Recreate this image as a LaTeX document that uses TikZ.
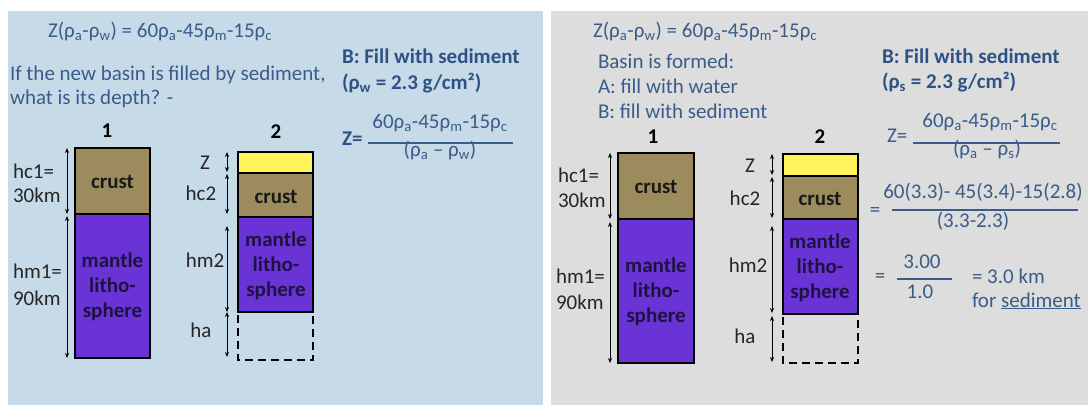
\documentclass[tikz,border=0pt]{standalone}
\usepackage{fontspec}
\setmainfont{Carlito}
\usetikzlibrary{arrows.meta}
\definecolor{leftbg}{HTML}{C6DAE8}
\definecolor{rightbg}{HTML}{DDDDDD}
\definecolor{tblue}{HTML}{3A5C8A}
\definecolor{bblue}{HTML}{2F5285}
\definecolor{crustc}{HTML}{9C8B5C}
\definecolor{mantc}{HTML}{6A33D6}
\definecolor{sedc}{HTML}{FFF35C}
\definecolor{manttxt}{HTML}{1E1340}
\definecolor{lblc}{HTML}{262626}
\newcommand{\fsN}{\fontsize{21}{25}\selectfont}
\newcommand{\lsub}[1]{\textsubscript{#1}}
\tikzset{
  every node/.style={inner sep=0pt, outer sep=0pt},
  txt/.style={font=\fsN, text=tblue},
  btxt/.style={font=\fsN\bfseries, text=bblue},
  lbl/.style={font=\fsN, text=lblc},
  colnum/.style={font=\fsN\bfseries, text=black, anchor=base},
  boxtxt/.style={font=\fontsize{21}{25}\selectfont\bfseries, align=center},
  layer/.style={draw=black, line width=1.5pt},
  dimarrow/.style={draw=black, line width=0.9pt, {Stealth[length=5pt,width=4pt]}-{Stealth[length=5pt,width=4pt]}},
  fracline/.style={draw=tblue, line width=1.4pt},
  emptybox/.style={draw=black, line width=1.3pt, dash pattern=on 8pt off 5pt}
}
\begin{document}
\begin{tikzpicture}[x=1pt,y=-1pt]
\useasboundingbox (0,0) rectangle (1088,405);
% panels
\fill[leftbg] (8,11) rectangle (543,405);
\fill[rightbg] (551,11) rectangle (1088,405);

% ================= LEFT PANEL =================
\node[txt, anchor=base west] (fL) at (48,37) {Z(ρ\lsub{a}-ρ\lsub{w}) = 60ρ\lsub{a}-45ρ\lsub{m}-15ρ\lsub{c}};
\node[txt, anchor=base west] (q1) at (10,80) {If the new basin is filled by sediment,};
\node[txt, anchor=base west] (q2) at (10,104) {what is its depth? -};
\node[colnum] (n1L) at (107,137) {1};
\node[colnum] (n2L) at (276,138) {2};
\node[btxt, anchor=base west] (bL) at (342,63) {B: Fill with sediment};
\node[btxt, anchor=base west] (rhoL) at (342,89) {(ρ\lsub{w} = 2.3 g/cm²)};
\node[btxt, anchor=base west] (zL) at (342,145) {Z=};
\node[txt, anchor=base] (numL) at (440,128) {60ρ\lsub{a}-45ρ\lsub{m}-15ρ\lsub{c}};
\node[txt, anchor=base] (denL) at (440,156) {(ρ\lsub{a} – ρ\lsub{w})};
\coordinate (fLa) at (368,143); \coordinate (fLb) at (513,143);
\draw[fracline] (fLa) -- (fLb);

% column 1 (left)
\filldraw[layer, fill=crustc] (75,148) rectangle (150,214);
\filldraw[layer, fill=mantc] (75,214) rectangle (150,358);
\node[boxtxt, text=black!90] (cL1) at (112.5,182) {crust};
\node[boxtxt, text=manttxt] (mL1) at (112.5,287) {mantle\\litho-\\sphere};
\coordinate (aL1a) at (67,148); \coordinate (aL1b) at (67,214);
\coordinate (aL1c) at (67,216); \coordinate (aL1d) at (67,358);
\draw[dimarrow] (aL1a) -- (aL1b);
\draw[dimarrow] (aL1c) -- (aL1d);
\node[lbl, anchor=base west] (hc1L) at (13,178) {hc1=};
\node[lbl, anchor=base west] (hc1Lb) at (13,202) {30km};
\node[lbl, anchor=base west] (hm1L) at (13,278) {hm1=};
\node[lbl, anchor=base west] (hm1Lb) at (13,305) {90km};

% column 2 (left)
\filldraw[layer, fill=sedc] (238,152) rectangle (313,173);
\filldraw[layer, fill=crustc] (238,173) rectangle (313,217);
\filldraw[layer, fill=mantc] (238,217) rectangle (313,312);
\draw[emptybox] (238,315) -- (238,360) -- (313,360) -- (313,315);
\node[boxtxt, text=black!90] (cL2) at (276,197) {crust};
\node[boxtxt, text=manttxt] (mL2) at (276,266) {mantle\\litho-\\sphere};
\coordinate (aL2a) at (227,152); \coordinate (aL2b) at (227,172);
\coordinate (aL2c) at (227,174); \coordinate (aL2d) at (227,214);
\coordinate (aL2e) at (227,226); \coordinate (aL2f) at (227,312);
\coordinate (aL2g) at (227,312); \coordinate (aL2h) at (227,357);
\draw[dimarrow] (aL2a) -- (aL2b);
\draw[dimarrow] (aL2c) -- (aL2d);
\draw[dimarrow] (aL2e) -- (aL2f);
\draw[dimarrow] (aL2g) -- (aL2h);
\node[lbl, anchor=base] (zlL) at (205,169) {Z};
\node[lbl, anchor=base] (hc2L) at (201,200) {hc2};
\node[lbl, anchor=base] (hm2L) at (205,267) {hm2};
\node[lbl, anchor=base] (haL) at (201,337) {ha};

% ================= RIGHT PANEL =================
\node[txt, anchor=base west] (fR) at (593,37) {Z(ρ\lsub{a}-ρ\lsub{w}) = 60ρ\lsub{a}-45ρ\lsub{m}-15ρ\lsub{c}};
\node[txt, anchor=base west] (r1) at (598,68) {Basin is formed:};
\node[txt, anchor=base west] (r2) at (598,93) {A: fill with water};
\node[txt, anchor=base west] (r3) at (598,118) {B: fill with sediment};
\node[colnum] (n1R) at (653,143) {1};
\node[colnum] (n2R) at (820,143) {2};
\node[btxt, anchor=base west] (bR) at (882,63) {B: Fill with sediment};
\node[btxt, anchor=base west] (rhoR) at (882,88) {(ρ\lsub{s} = 2.3 g/cm²)};
\node[txt, anchor=base west] (zR) at (887,142) {Z=};
\node[txt, anchor=base] (numR) at (990,127) {60ρ\lsub{a}-45ρ\lsub{m}-15ρ\lsub{c}};
\node[txt, anchor=base] (denR) at (987,155) {(ρ\lsub{a} – ρ\lsub{s})};
\coordinate (fRa) at (913,143); \coordinate (fRb) at (1060,143);
\draw[fracline] (fRa) -- (fRb);
\node[txt] (eq1) at (875,212) {=};
\node[txt, anchor=base] (num2) at (983,198) {60(3.3)- 45(3.4)-15(2.8)};
\node[txt, anchor=base] (den2) at (973,227) {(3.3-2.3)};
\coordinate (f2a) at (892,210); \coordinate (f2b) at (1078,210);
\draw[fracline] (f2a) -- (f2b);
\node[txt] (eq2) at (880,278) {=};
\node[txt, anchor=base] (num3) at (922,268) {3.00};
\node[txt, anchor=base] (den3) at (920,298) {1.0};
\coordinate (f3a) at (897,279); \coordinate (f3b) at (952,279);
\draw[fracline] (f3a) -- (f3b);
\node[txt, anchor=base west] (res) at (972,283) {= 3.0 km};
\node[txt, anchor=base west] (res2) at (972,307) {for \underline{sediment}};

% column 1 (right)
\filldraw[layer, fill=crustc] (618,153) rectangle (694,219);
\filldraw[layer, fill=mantc] (618,219) rectangle (694,363);
\node[boxtxt, text=black!90] (cR1) at (656,187) {crust};
\node[boxtxt, text=manttxt] (mR1) at (656,292) {mantle\\litho-\\sphere};
\coordinate (aR1a) at (610,153); \coordinate (aR1b) at (610,219);
\coordinate (aR1c) at (610,222); \coordinate (aR1d) at (610,363);
\draw[dimarrow] (aR1a) -- (aR1b);
\draw[dimarrow] (aR1c) -- (aR1d);
\node[lbl, anchor=base west] (hc1R) at (558,182) {hc1=};
\node[lbl, anchor=base west] (hc1Rb) at (558,207) {30km};
\node[lbl, anchor=base west] (hm1R) at (556,283) {hm1=};
\node[lbl, anchor=base west] (hm1Rb) at (556,309) {90km};

% column 2 (right)
\filldraw[layer, fill=sedc] (783,154) rectangle (858,176);
\filldraw[layer, fill=crustc] (783,176) rectangle (858,219);
\filldraw[layer, fill=mantc] (783,219) rectangle (858,314);
\draw[emptybox] (783,317) -- (783,363) -- (858,363) -- (858,317);
\node[boxtxt, text=black!90] (cR2) at (820,199) {crust};
\node[boxtxt, text=manttxt] (mR2) at (820,268) {mantle\\litho-\\sphere};
\coordinate (aR2a) at (772,154); \coordinate (aR2b) at (772,175);
\coordinate (aR2c) at (772,177); \coordinate (aR2d) at (772,218);
\coordinate (aR2e) at (772,226); \coordinate (aR2f) at (772,313);
\coordinate (aR2g) at (772,316); \coordinate (aR2h) at (772,362);
\draw[dimarrow] (aR2a) -- (aR2b);
\draw[dimarrow] (aR2c) -- (aR2d);
\draw[dimarrow] (aR2e) -- (aR2f);
\draw[dimarrow] (aR2g) -- (aR2h);
\node[lbl, anchor=base] (zlR) at (750,172) {Z};
\node[lbl, anchor=base] (hc2R) at (745,205) {hc2};
\node[lbl, anchor=base] (hm2R) at (748,272) {hm2};
\node[lbl, anchor=base] (haR) at (745,343) {ha};
\end{tikzpicture}
\end{document}
